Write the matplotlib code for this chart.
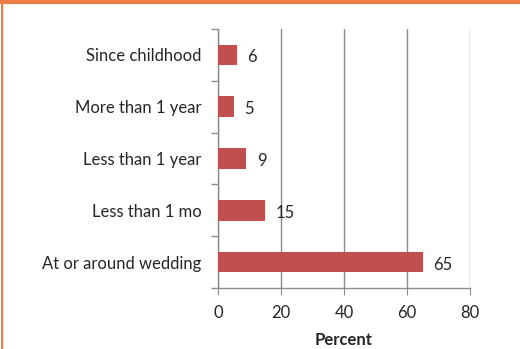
import matplotlib
matplotlib.use("Agg")
import matplotlib.pyplot as plt
from matplotlib.lines import Line2D

categories = ["At or around wedding", "Less than 1 mo", "Less than 1 year",
              "More than 1 year", "Since childhood"]
values = [65, 15, 9, 5, 6]
xticks = [0, 20, 40, 60, 80]

plt.rcParams['font.family'] = ['Lato', 'DejaVu Sans']
fig = plt.figure(figsize=(5.2, 3.49), dpi=100)
W, H = 520, 349
ax = fig.add_axes([218 / W, 1 - 288 / H, (470 - 218) / W, (288 - 29) / H])

grid_c = "#8c8c8c"
bar_c = "#c0504d"
text_c = "#262626"
fs = 12

ypos = list(range(len(categories)))
ax.barh(ypos, values, height=0.4, color=bar_c, zorder=3)
for y, v in zip(ypos, values):
    ax.text(v + 3.3, y - 0.05, f"{v}", va="center", ha="left", fontsize=fs, color=text_c)

ax.set_xlim(0, 80)
ax.set_ylim(-0.5, len(categories) - 0.5)
ax.set_xticks(xticks)
ax.set_xticklabels([str(t) for t in xticks], fontsize=fs, color=text_c)
ax.set_yticks(ypos)
ax.set_yticklabels(categories, fontsize=fs, color=text_c)
ax.tick_params(axis='y', length=0, pad=12)
ax.tick_params(axis='x', length=5, color=grid_c, pad=7)
# boundary ticks on y axis
ax.set_yticks([i - 0.5 for i in range(len(categories) + 1)], minor=True)
ax.tick_params(axis='y', which='minor', length=5, color=grid_c, width=1)

ax.xaxis.grid(True, color=grid_c, linewidth=1, zorder=0)
ax.set_axisbelow(True)
for s in ["top", "right"]:
    ax.spines[s].set_visible(False)
for s in ["left", "bottom"]:
    ax.spines[s].set_color(grid_c)
    ax.spines[s].set_linewidth(1)

ax.set_xlabel("Percent", fontsize=fs, fontweight="bold", color=text_c, labelpad=8)

# orange frame lines
orange = "#ee7d45"
fig.add_artist(Line2D([0, 1], [1 - 1.5 / H, 1 - 1.5 / H], color=orange, linewidth=3, transform=fig.transFigure))
fig.add_artist(Line2D([1.5 / W, 1.5 / W], [0, 1], color=orange, linewidth=1.5, transform=fig.transFigure))

fig.savefig("out.png", dpi=100)
